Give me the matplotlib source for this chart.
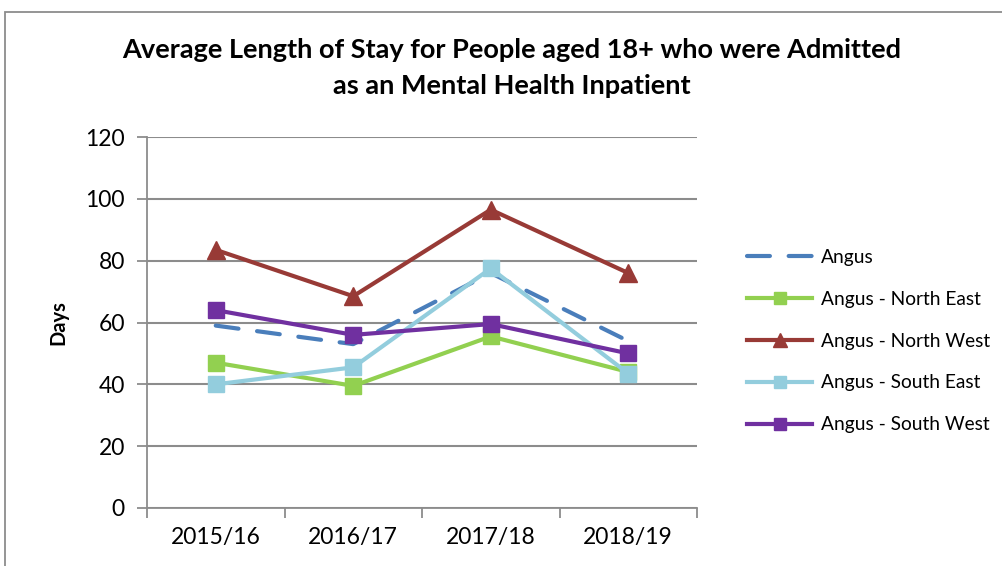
import matplotlib
matplotlib.use("Agg")
import matplotlib.pyplot as plt
from matplotlib.patches import Rectangle

categories = ["2015/16", "2016/17", "2017/18", "2018/19"]
angus = [59, 53, 76, 54]
north_east = [47, 39.5, 55.5, 44]
north_west = [83.5, 68.5, 96.5, 76]
south_east = [40, 45.5, 77.5, 43.5]
south_west = [64, 56, 59.5, 50]

title = "Average Length of Stay for People aged 18+ who were Admitted\nas an Mental Health Inpatient"
FONT = ["Lato", "DejaVu Sans"]
plt.rcParams['font.family'] = FONT

fig = plt.figure(figsize=(10.03, 5.66), dpi=100)
ax = fig.add_axes([147/1003, 1-508/566, 550/1003, 371/566])

# outer chart border
fig.patches.append(Rectangle((5/1003, -0.1), 1.2, (566-12)/566 + 0.1,
                             transform=fig.transFigure, fill=False,
                             edgecolor="#8c8c8c", linewidth=1.3))

x = list(range(len(categories)))
lw = 3.0
ax.plot(x, angus, color="#4A7EBB", lw=lw, dashes=(5.5, 4.5), dash_capstyle="round",
        label="Angus", zorder=3)
ax.plot(x, north_east, color="#92D050", lw=lw, marker="s", ms=12, label="Angus - North East", zorder=3)
ax.plot(x, north_west, color="#983A36", lw=lw, marker="^", ms=13, label="Angus - North West", zorder=3)
ax.plot(x, south_east, color="#93CDDD", lw=lw, marker="s", ms=12, label="Angus - South East", zorder=3)
ax.plot(x, south_west, color="#7030A0", lw=lw, marker="s", ms=12, label="Angus - South West", zorder=3)

ax.set_xlim(-0.5, 3.5)
ax.set_ylim(0, 120)
ax.set_yticks(range(0, 121, 20))
ax.yaxis.grid(True, color="#8c8c8c", lw=1.5)
ax.set_axisbelow(True)
ax.set_xticks([-0.5, 0.5, 1.5, 2.5, 3.5])
ax.set_xticklabels([])
ax.set_xticks(x, minor=True)
ax.set_xticklabels(categories, minor=True, fontsize=16.5)
ax.tick_params(axis="x", which="minor", length=0, pad=14)
ax.tick_params(axis="x", which="major", length=7, color="#8c8c8c", width=1.3)
ax.tick_params(axis="y", length=7, color="#8c8c8c", width=1.3, labelsize=16.5, pad=9)
for s in ["top", "right"]:
    ax.spines[s].set_visible(False)
for s in ["left", "bottom"]:
    ax.spines[s].set_color("#8c8c8c")
    ax.spines[s].set_linewidth(1.3)

ax.set_ylabel("Days", fontsize=14.5, fontweight="bold", labelpad=12)

fig.text(512/1003, 1-68/566, title, ha="center", va="center", fontsize=19.5,
         fontweight="bold", linespacing=1.55)

leg = ax.legend(loc="center left", bbox_to_anchor=(1.06, 0.45), frameon=False,
                fontsize=13.8, handlelength=3.4, labelspacing=1.3, handletextpad=0.45,
                markerscale=0.75)

fig.savefig("out.png", dpi=100)
